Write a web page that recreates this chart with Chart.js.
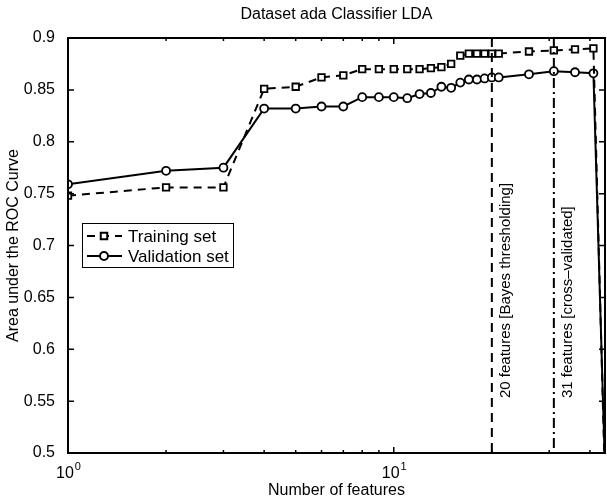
<!DOCTYPE html>
<html lang="en">
<head>
  <meta charset="UTF-8" />
  <title>Dataset ada Classifier LDA</title>
  <script src="https://cdn.jsdelivr.net/npm/chart.js@4.4.1/dist/chart.umd.min.js"></script>
  <style>
    body { margin: 0; background: #fff; }
    canvas { display: block; }
  </style>
</head>
<body>
  <canvas id="roc" width="607" height="500"></canvas>

  <script>
    // values
    const features = [1, 2, 3, 4, 5, 6, 7, 8, 9, 10, 11, 12, 13, 14, 15, 16, 17, 18, 19, 20, 21, 26, 31, 36, 41, 46];
    const training = [0.748, 0.756, 0.756, 0.851, 0.853, 0.862, 0.864, 0.870, 0.870, 0.870, 0.870, 0.870, 0.871,
      0.872, 0.875, 0.883, 0.885, 0.885, 0.885, 0.885, 0.885, 0.887, 0.888, 0.889, 0.890, 0.30];
    const validation = [0.759, 0.772, 0.775, 0.832, 0.832, 0.834, 0.834, 0.843, 0.843, 0.843, 0.842, 0.846, 0.847,
      0.853, 0.852, 0.857, 0.860, 0.860, 0.861, 0.862, 0.862, 0.865, 0.868, 0.867, 0.866, 0.33];

    const markerFeatures = [20, 31];
    const markerLabels = ['20 features [Bayes thresholding]', '31 features [cross\u2013validated]'];

    const xMajorTicks = [1, 10];
    const xMinorTicks = [2, 3, 4, 5, 6, 7, 8, 9, 20, 30, 40];
    const yTicks = [0.5, 0.55, 0.6, 0.65, 0.7, 0.75, 0.8, 0.85, 0.9];

    const FONT = '"Liberation Sans", Arial, sans-serif';

    // matlab style decorations: box, inward ticks, superscript labels, markers, legend
    const matlabBox = {
      id: 'matlabBox',
      afterDatasetsDraw(chart) {
        const { ctx, chartArea: a } = chart;
        const xs = chart.scales.x, ys = chart.scales.y;
        ctx.save();
        ctx.strokeStyle = '#000';
        ctx.fillStyle = '#000';

        // vertical marker lines
        ctx.lineWidth = 2;
        markerFeatures.forEach((f, i) => {
          const px = xs.getPixelForValue(f);
          ctx.setLineDash(i === 0 ? [9, 6] : [10, 4, 2, 4]);
          ctx.beginPath();
          ctx.moveTo(px, a.top);
          ctx.lineTo(px, a.bottom);
          ctx.stroke();
          ctx.setLineDash([]);
          ctx.save();
          ctx.translate(px + 14, 398);
          ctx.rotate(-Math.PI / 2);
          ctx.font = '15px ' + FONT;
          ctx.textAlign = 'left';
          ctx.textBaseline = 'middle';
          ctx.fillText(markerLabels[i], 0, 0);
          ctx.restore();
        });

        // ticks
        ctx.lineWidth = 1.5;
        ctx.beginPath();
        xMajorTicks.concat(xMinorTicks).forEach(v => {
          const px = xs.getPixelForValue(v);
          const len = xMajorTicks.includes(v) ? 6 : 3;
          ctx.moveTo(px, a.bottom); ctx.lineTo(px, a.bottom - len);
          ctx.moveTo(px, a.top); ctx.lineTo(px, a.top + len);
        });
        yTicks.forEach(v => {
          const py = ys.getPixelForValue(v);
          ctx.moveTo(a.left, py); ctx.lineTo(a.left + 6, py);
          ctx.moveTo(a.right, py); ctx.lineTo(a.right - 6, py);
        });
        ctx.stroke();

        // box
        ctx.lineWidth = 2;
        ctx.strokeRect(a.left, a.top, a.right - a.left, a.bottom - a.top);

        // x tick labels 10^n
        xMajorTicks.forEach(v => {
          const px = xs.getPixelForValue(v);
          const exp = String(Math.round(Math.log10(v)));
          ctx.font = '16px ' + FONT;
          const w1 = ctx.measureText('10').width;
          ctx.font = '11px ' + FONT;
          const w2 = ctx.measureText(exp).width;
          const x0 = px - (w1 + w2) / 2;
          ctx.textAlign = 'left';
          ctx.textBaseline = 'alphabetic';
          ctx.font = '16px ' + FONT;
          ctx.fillText('10', x0, 478);
          ctx.font = '11px ' + FONT;
          ctx.fillText(exp, x0 + w1 + 1, 470);
        });

        // x axis title
        ctx.font = '16px ' + FONT;
        ctx.textAlign = 'center';
        ctx.textBaseline = 'alphabetic';
        ctx.fillText('Number of features', (a.left + a.right) / 2, 495);

        // title
        ctx.fillText('Dataset ada Classifier LDA', (a.left + a.right) / 2, 19);

        // legend
        const lx = 82, ly = 223, lw = 151, lh = 44;
        ctx.fillStyle = '#fff';
        ctx.fillRect(lx, ly, lw, lh);
        ctx.lineWidth = 1;
        ctx.strokeStyle = '#000';
        ctx.strokeRect(lx + 0.5, ly + 0.5, lw, lh);
        chart.data.datasets.forEach((ds, i) => {
          const y = ly + 13 + i * 20;
          ctx.lineWidth = 2;
          ctx.setLineDash(ds.borderDash || []);
          ctx.beginPath();
          ctx.moveTo(lx + 5, y);
          ctx.lineTo(lx + 40, y);
          ctx.stroke();
          ctx.setLineDash([]);
          Chart.helpers.drawPoint(ctx, {
            pointStyle: ds.pointStyle,
            radius: ds.pointRadius,
            borderWidth: ds.pointBorderWidth
          }, lx + 22, y);
          ctx.fillStyle = '#000';
          ctx.font = '17px ' + FONT;
          ctx.textAlign = 'left';
          ctx.textBaseline = 'middle';
          ctx.fillText(ds.label, lx + 46, y + 1);
          ctx.fillStyle = '#fff';
        });
        ctx.restore();
      }
    };

    const ctx = document.getElementById('roc').getContext('2d');

    new Chart(ctx, {
      type: 'line',
      data: {
        datasets: [{
          label: 'Training set',
          data: features.map((f, i) => ({ x: f, y: training[i] })),
          borderColor: '#000',
          borderWidth: 2,
          borderDash: [8, 6],
          pointStyle: 'rect',
          pointRadius: 4.6,
          pointBorderWidth: 1.8,
          pointBackgroundColor: '#fff',
          pointBorderColor: '#000',
          tension: 0
        }, {
          label: 'Validation set',
          data: features.map((f, i) => ({ x: f, y: validation[i] })),
          borderColor: '#000',
          borderWidth: 2,
          pointStyle: 'circle',
          pointRadius: 4,
          pointBorderWidth: 1.8,
          pointBackgroundColor: '#fff',
          pointBorderColor: '#000',
          tension: 0
        }]
      },
      options: {
        responsive: false,
        animation: false,
        devicePixelRatio: 1,
        layout: { autoPadding: false, padding: { top: 38, right: 2, left: 0, bottom: 0 } },
        plugins: {
          legend: { display: false },
          title: { display: false },
          tooltip: { enabled: false }
        },
        scales: {
          x: {
            type: 'logarithmic',
            min: 1,
            max: 44.5,
            grid: { display: false },
            border: { display: false },
            ticks: { display: false },
            afterFit(scale) { scale.height = 47; }
          },
          y: {
            min: 0.5,
            max: 0.9,
            grid: { display: false },
            border: { display: false },
            afterBuildTicks(scale) { scale.ticks = yTicks.map(v => ({ value: v })); },
            ticks: {
              color: '#000',
              padding: 5,
              font: { family: FONT, size: 16 },
              callback: v => String(+v.toFixed(2))
            },
            title: {
              display: true,
              text: 'Area under the ROC Curve',
              color: '#000',
              font: { family: FONT, size: 16 },
              padding: { top: 4, bottom: 0 }
            },
            afterFit(scale) { scale.width = 68; }
          }
        }
      },
      plugins: [matlabBox]
    });
  </script>
</body>
</html>
